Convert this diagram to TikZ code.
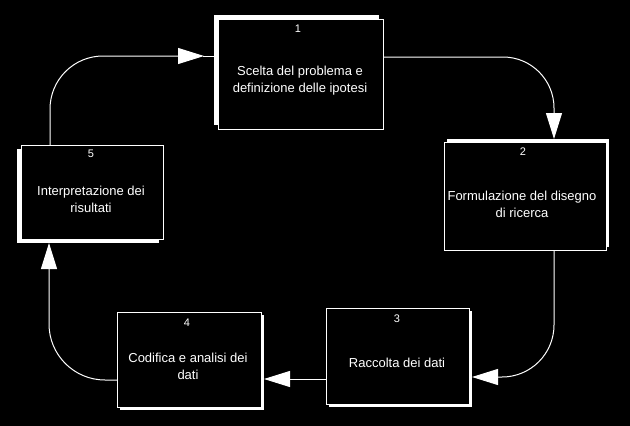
\documentclass[tikz,border=0pt]{standalone}
\usepackage{fontspec}
\setmainfont{Liberation Sans}
\usetikzlibrary{arrows.meta}
\tikzset{
  shadowbox/.style={rectangle, draw=none, fill=white, inner sep=0pt, outer sep=0pt},
  mainbox/.style={rectangle, draw=white, fill=black, line width=1pt, inner sep=0pt, outer sep=0pt},
  numlbl/.style={text=white, font=\fontsize{11}{13}\selectfont, anchor=base, inner sep=0pt},
  txtlbl/.style={text=white, font=\fontsize{13}{17}\selectfont, align=center, inner sep=0pt},
  conn/.style={draw=white, line width=1pt, -{Triangle[length=26pt, width=16pt, fill=white]}},
  plainconn/.style={draw=white, line width=1pt}
}
\begin{document}
\begin{tikzpicture}[x=1pt, y=-1pt]
\fill[black] (0,0) rectangle (630,426);
\useasboundingbox (0,0) rectangle (630,426);

% shadows
\node[shadowbox, minimum width=165pt, minimum height=110pt] (b1s) at (296.5,70) {};
\node[shadowbox, minimum width=162pt, minimum height=108pt] (b2s) at (528,193) {};
\node[shadowbox, minimum width=143pt, minimum height=96pt] (b3s) at (400.5,359) {};
\node[shadowbox, minimum width=144pt, minimum height=95pt] (b4s) at (192,362.5) {};
\node[shadowbox, minimum width=142pt, minimum height=94pt] (b5s) at (88,196) {};

% boxes
\node[mainbox, minimum width=165pt, minimum height=110pt] (b1) at (300.5,74) {};
\node[mainbox, minimum width=162pt, minimum height=108pt] (b2) at (525,196) {};
\node[mainbox, minimum width=143pt, minimum height=96pt] (b3) at (397.5,356) {};
\node[mainbox, minimum width=144pt, minimum height=95pt] (b4) at (189,359.5) {};
\node[mainbox, minimum width=142pt, minimum height=94pt] (b5) at (92,192) {};

% numbers
\node[numlbl] (n1) at (298,32) {1};
\node[numlbl] (n2) at (523,155) {2};
\node[numlbl] (n3) at (397,322) {3};
\node[numlbl] (n4) at (187,326) {4};
\node[numlbl] (n5) at (91,157) {5};

% texts
\node[txtlbl] (t1) at (300,81) {Scelta del problema e\\definizione delle ipotesi};
\node[txtlbl] (t2) at (522,204) {Formulazione del disegno\\di ricerca};
\node[txtlbl, anchor=base] (t3) at (397,367) {Raccolta dei dati};
\node[txtlbl] (t4) at (188,366.5) {Codifica e analisi dei\\dati};
\node[txtlbl] (t5) at (91,199.5) {Interpretazione dei\\risultati};

% corner coordinates
\coordinate (c1) at (554,57);
\coordinate (c2) at (554,377);
\coordinate (c3) at (300,379);
\coordinate (c4) at (49,380);
\coordinate (c5) at (50,56);

% connectors
\draw[conn, rounded corners=51pt] (b1.east |- c1) -- (c1) -- (b2s.north -| c1);
\draw[conn, rounded corners=52pt] (b2.south -| c2) -- (c2) -- (b3s.east |- c2);
\draw[conn] (b3.west |- c3) -- (b4s.east |- c3);
\draw[conn, rounded corners=56pt] (b4.west |- c4) -- (c4) -- (b5s.south -| c4);
\draw[conn, rounded corners=53pt, shorten >=10pt] (b5.north -| c5) -- (c5) -- (b1s.west |- c5);
\draw[plainconn] ([xshift=-11pt]b1s.west |- c5) -- (b1s.west |- c5);
\end{tikzpicture}
\end{document}
